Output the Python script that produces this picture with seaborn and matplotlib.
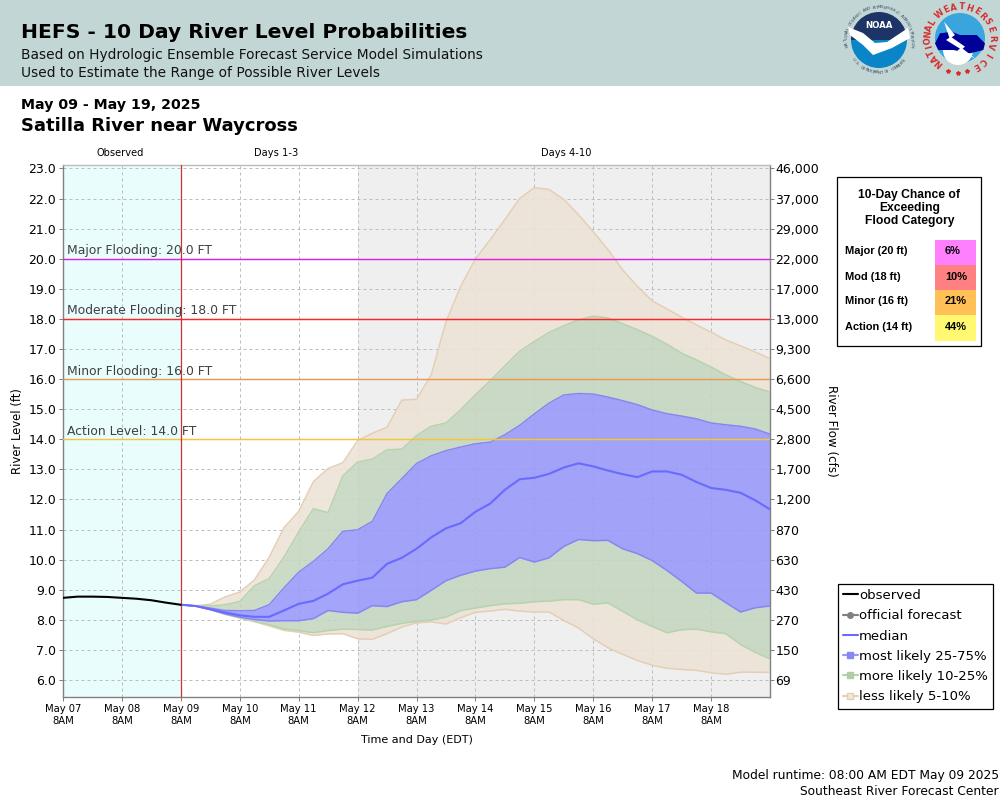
import numpy as np
import pandas as pd
import matplotlib
matplotlib.use("Agg")
import matplotlib.pyplot as plt
import seaborn as sns
from matplotlib.lines import Line2D
from matplotlib.patches import Circle, Polygon, Rectangle, Wedge

# ==========================================================
# DATA
# ==========================================================

observed = [8.73, 8.77, 8.77, 8.76, 8.73, 8.70, 8.65, 8.57, 8.50]

median = [8.50, 8.46, 8.35, 8.24, 8.15, 8.10, 8.10, 8.31, 8.53, 8.63, 8.87, 9.18, 9.30, 9.40,
          9.86, 10.06, 10.36, 10.74, 11.04, 11.21, 11.59, 11.86, 12.32, 12.67, 12.72, 12.85,
          13.06, 13.20, 13.10, 12.96, 12.84, 12.74, 12.93, 12.93, 12.82, 12.58, 12.38, 12.32,
          12.22, 11.97, 11.67]

q95 = [8.50, 8.46, 8.52, 8.76, 8.92, 9.33, 10.08, 11.06, 11.60, 12.59, 13.03, 13.22, 13.95,
       14.20, 14.40, 15.30, 15.33, 16.14, 17.90, 19.08, 19.99, 20.63, 21.30, 22.00, 22.36,
       22.30, 21.97, 21.46, 20.90, 20.30, 19.63, 19.08, 18.60, 18.33, 18.06, 17.80, 17.56,
       17.30, 17.10, 16.90, 16.68]

q90 = [8.50, 8.46, 8.46, 8.50, 8.61, 9.13, 9.37, 10.08, 10.92, 11.69, 11.56, 12.78, 13.24,
       13.34, 13.65, 13.67, 14.12, 14.43, 14.54, 14.98, 15.48, 15.94, 16.44, 16.92, 17.25,
       17.55, 17.77, 17.97, 18.09, 18.03, 17.84, 17.64, 17.42, 17.16, 16.86, 16.64, 16.40,
       16.14, 15.92, 15.72, 15.57]

q75 = [8.50, 8.46, 8.39, 8.31, 8.30, 8.31, 8.50, 9.06, 9.58, 9.94, 10.36, 10.94, 10.99, 11.27,
       12.19, 12.69, 13.19, 13.45, 13.62, 13.74, 13.85, 13.90, 14.15, 14.46, 14.84, 15.20,
       15.47, 15.52, 15.50, 15.40, 15.28, 15.15, 14.97, 14.85, 14.77, 14.68, 14.54, 14.48,
       14.43, 14.34, 14.17]

q25 = [8.50, 8.46, 8.34, 8.20, 8.09, 8.01, 7.96, 7.97, 7.97, 8.04, 8.31, 8.25, 8.22, 8.47,
       8.44, 8.60, 8.67, 8.98, 9.30, 9.48, 9.62, 9.70, 9.75, 10.07, 9.92, 10.06, 10.44, 10.67,
       10.63, 10.64, 10.36, 10.20, 9.97, 9.64, 9.28, 8.89, 8.89, 8.57, 8.26, 8.40, 8.46]

q10 = [8.50, 8.46, 8.34, 8.19, 8.07, 7.95, 7.84, 7.70, 7.64, 7.57, 7.64, 7.69, 7.68, 7.66,
       7.78, 7.88, 7.95, 7.99, 8.09, 8.31, 8.39, 8.47, 8.53, 8.55, 8.60, 8.62, 8.67, 8.67,
       8.52, 8.56, 8.28, 8.00, 7.78, 7.57, 7.67, 7.69, 7.60, 7.54, 7.18, 6.92, 6.70]

q05 = [8.50, 8.46, 8.34, 8.18, 8.06, 7.94, 7.80, 7.65, 7.59, 7.48, 7.53, 7.54, 7.37, 7.35,
       7.54, 7.76, 7.90, 7.93, 7.86, 8.07, 8.25, 8.29, 8.35, 8.29, 8.26, 8.26, 7.98, 7.73,
       7.37, 7.07, 6.85, 6.65, 6.49, 6.39, 6.35, 6.32, 6.24, 6.19, 6.26, 6.26, 6.25]

level_ticks = [6, 7, 8, 9, 10, 11, 12, 13, 14, 15, 16, 17, 18, 19, 20, 21, 22, 23]
flow_labels = ["69", "150", "270", "430", "630", "870", "1,200", "1,700", "2,800", "4,500",
               "6,600", "9,300", "13,000", "17,000", "22,000", "29,000", "37,000", "46,000"]

flood_names = ["Major Flooding: 20.0 FT", "Moderate Flooding: 18.0 FT",
               "Minor Flooding: 16.0 FT", "Action Level: 14.0 FT"]
flood_levels = [20, 18, 16, 14]
flood_colors = ["#E020E0", "#FF2525", "#E89A55", "#F2C53A"]

chance_names = ["Major (20 ft)", "Mod (18 ft)", "Minor (16 ft)", "Action (14 ft)"]
chance_values = ["6%", "10%", "21%", "44%"]
chance_colors = ["#FF80FF", "#FF8080", "#FFC055", "#FFF870"]

# ==========================================================
# TABLES
# ==========================================================

start = pd.Timestamp("2025-05-07 08:00")
now = pd.Timestamp("2025-05-09 08:00")
split = pd.Timestamp("2025-05-12 08:00")
end = pd.Timestamp("2025-05-19 08:00")

obs_df = pd.DataFrame({"time": pd.date_range(start, now, freq="6h"), "level": observed})
fc_df = pd.DataFrame({"time": pd.date_range(now, end, freq="6h"), "median": median,
                      "q95": q95, "q90": q90, "q75": q75, "q25": q25, "q10": q10, "q05": q05})
day_ticks = pd.date_range(start, "2025-05-18 08:00", freq="D")

# ==========================================================
# STYLE
# ==========================================================

sns.set_theme(style="ticks")
plt.rcParams["font.family"] = "DejaVu Sans"
plt.rcParams["text.color"] = "black"
plt.rcParams["axes.labelcolor"] = "black"
plt.rcParams["xtick.labelcolor"] = "black"
plt.rcParams["ytick.labelcolor"] = "black"

TAN = "#EDE3D6"
GREEN = "#C5D6C1"
BLUE = "#9898FA"
TAN_EDGE = "#E4CFB6"
GREEN_EDGE = "#B6D3AC"
BLUE_EDGE = "#8686F2"
MEDIAN = "#6A6AFF"
GRID = "#BDBDBD"
AXIS = "#808080"

fig = plt.figure(figsize=(10, 8), dpi=100)
ax = fig.add_axes([63 / 1000, 103 / 800, 707 / 1000, 532.5 / 800])

# ==========================================================
# CHART
# ==========================================================

ax.set_xlim(start, end)
ax.set_ylim(5.435, 23.13)

ax.axvspan(start, now, color="#E9FDFD", lw=0, zorder=0)
ax.axvspan(split, end, color="#EFEFEF", lw=0, zorder=0)

ax.set_yticks(level_ticks)
ax.set_yticklabels([f"{v:.1f}" for v in level_ticks])
ax.set_xticks(day_ticks)
ax.set_xticklabels([d.strftime("%b %d") + "\n8AM" for d in day_ticks])
ax.grid(True, color=GRID, lw=0.72, ls=(0, (3, 3)), zorder=1)
ax.set_axisbelow(True)

bands = [("q05", "q10", TAN), ("q10", "q25", GREEN), ("q25", "q75", BLUE),
         ("q75", "q90", GREEN), ("q90", "q95", TAN)]
for lo, hi, col in bands:
    ax.fill_between(fc_df["time"], fc_df[lo], fc_df[hi], color=col, alpha=0.88, lw=0, zorder=2)

for name, col in [("q95", TAN_EDGE), ("q05", TAN_EDGE), ("q90", GREEN_EDGE), ("q10", GREEN_EDGE),
                  ("q75", BLUE_EDGE), ("q25", BLUE_EDGE)]:
    sns.lineplot(data=fc_df, x="time", y=name, ax=ax, color=col, lw=1.1, zorder=3)

for lev, col, name in zip(flood_levels, flood_colors, flood_names):
    ax.axhline(lev, color=col, lw=1.05, zorder=4)
    ax.annotate(name, (start, lev), xytext=(3, 1), textcoords="offset points",
                fontsize=8.9, color="#404040", va="bottom", zorder=6)

ax.axvline(now, color="#D03030", lw=0.9, zorder=4)

sns.lineplot(data=fc_df, x="time", y="median", ax=ax, color=MEDIAN, lw=1.5, zorder=5)
sns.lineplot(data=obs_df, x="time", y="level", ax=ax, color="black", lw=1.5, zorder=5)

ax.set_xlabel("Time and Day (EDT)", fontsize=8, color="black", labelpad=7)
ax.set_ylabel("River Level (ft)", fontsize=8.4, color="black", labelpad=3)

ax.tick_params(axis="y", labelsize=9, length=3, width=0.72, color=AXIS, pad=2)
ax.tick_params(axis="x", labelsize=7.2, length=3, width=0.72, color=AXIS, pad=2)
for side in ["left", "bottom", "right"]:
    ax.spines[side].set_color(AXIS)
    ax.spines[side].set_linewidth(1)
ax.spines["top"].set_visible(True)
ax.spines["top"].set_color("#BBBBBB")
ax.spines["top"].set_linewidth(1)

ax2 = ax.twinx()
ax2.set_ylim(ax.get_ylim())
ax2.set_yticks(level_ticks)
ax2.set_yticklabels(flow_labels)
ax2.set_ylabel("River Flow (cfs)", fontsize=8.6, rotation=270, labelpad=0)
ax2.yaxis.set_label_coords(1.0 + 68 / 707, 0.5)
ax2.tick_params(axis="y", labelsize=9, length=3, width=0.72, color=AXIS, pad=1)
for side in ["left", "bottom", "right", "top"]:
    ax2.spines[side].set_visible(False)

# ==========================================================
# LEGEND
# ==========================================================

handles = [
    Line2D([], [], color="black", lw=1.5),
    Line2D([], [], color="#808080", lw=1.5, marker="o", ms=4),
    Line2D([], [], color=MEDIAN, lw=1.5),
    Line2D([], [], color="#9898FA", lw=1.5, marker="s", ms=4.2, mfc="#8888F0", mec="#8888F0"),
    Line2D([], [], color="#B6D3AC", lw=1.5, marker="s", ms=4.2, mfc="#B0CCA8", mec="#B0CCA8"),
    Line2D([], [], color="#E4CFB6", lw=1.5, marker="s", ms=4.2, mfc="#F0E6D8", mec="#E4CFB6"),
]
labels = ["observed", "official forecast", "median", "most likely 25-75%",
          "more likely 10-25%", "less likely 5-10%"]
leg = ax2.legend(handles, labels, loc="upper left", bbox_to_anchor=(837.5 / 1000, 216.5 / 800),
                 bbox_transform=fig.transFigure, borderaxespad=0, frameon=True, fancybox=False,
                 framealpha=1, edgecolor="black", fontsize=9.5, handlelength=1.1,
                 handletextpad=0.1, labelspacing=0.55, borderpad=0.42)
leg.get_frame().set_linewidth(0.9)

# ==========================================================
# PAGE TEXT (pixel coordinates)
# ==========================================================

page = fig.add_axes([0, 0, 1, 1], zorder=10)
page.set_xlim(0, 1000)
page.set_ylim(800, 0)
page.axis("off")
page.patch.set_alpha(0)

page.add_patch(Rectangle((0, 0), 1000, 85.5, color="#C2D7D5", lw=0))

page.text(21, 33, "HEFS - 10 Day River Level Probabilities", fontsize=14.6, weight="bold", va="center")
page.text(21, 54.5, "Based on Hydrologic Ensemble Forecast Service Model Simulations", fontsize=9.92, va="center", color="#111111")
page.text(21, 73, "Used to Estimate the Range of Possible River Levels", fontsize=9.92, va="center", color="#111111")
page.text(21, 105, "May 09 - May 19, 2025", fontsize=10.2, weight="bold", va="center")
page.text(21, 126, "Satilla River near Waycross", fontsize=13, weight="bold", va="center")

page.text(120, 153.5, "Observed", fontsize=7.1, ha="center", va="center")
page.text(276, 153.5, "Days 1-3", fontsize=7.1, ha="center", va="center")
page.text(566, 153.5, "Days 4-10", fontsize=7.1, ha="center", va="center")

page.text(999, 775.5, "Model runtime: 08:00 AM EDT May 09 2025", fontsize=8.85, ha="right", va="center")
page.text(999, 791.5, "Southeast River Forecast Center", fontsize=8.85, ha="right", va="center")

# flood category box
page.add_patch(Rectangle((836.5, 176.5), 144, 169, fc="white", ec="black", lw=0.9))
page.text(909.5, 195, "10-Day Chance of", family="Liberation Sans", weight="bold", fontsize=8.7, ha="center", va="center")
page.text(909.5, 208, "Exceeding", family="Liberation Sans", weight="bold", fontsize=8.7, ha="center", va="center")
page.text(909.5, 221, "Flood Category", family="Liberation Sans", weight="bold", fontsize=8.7, ha="center", va="center")
for i, (name, val, col) in enumerate(zip(chance_names, chance_values, chance_colors)):
    top = 240 + 25 * i
    page.add_patch(Rectangle((935, top), 41, 26 if i == 3 else 25, color=col, lw=0))
    page.text(845, top + 11.5, name, family="Liberation Sans", weight="bold", fontsize=7.9, va="center")
    page.text(945, top + 11.5, val, family="Liberation Sans", weight="bold", fontsize=7.9, va="center")

# ==========================================================
# LOGOS
# ==========================================================


def ring_text(text, cx, cy, radius, a_start, a_end, flip=False, **kw):
    # one character at a time round a circle, angles in degrees clockwise from top
    for a, ch in zip(np.linspace(a_start, a_end, len(text)), text):
        r = np.radians(a)
        rot = 180 - a if flip else -a
        page.text(cx + radius * np.sin(r), cy - radius * np.cos(r), ch, rotation=rot,
                  ha="center", va="center", rotation_mode="anchor", **kw)


# NOAA
nx, ny = 879, 40
page.add_patch(Wedge((nx, ny), 28, 0, 180, color="#0A85C8", lw=0))
page.add_patch(Wedge((nx, ny), 28, 180, 360, color="#1D3566", lw=0))
page.add_patch(Polygon([(848, 27), (863, 33), (875, 43), (887, 42), (908, 28), (910, 38),
                        (892, 48), (873, 55), (863, 45), (850, 35)], color="white", lw=0))
page.text(nx, 25, "NOAA", fontsize=6.2, weight="bold", color="white", ha="center", va="center")
ring_text("NATIONAL OCEANIC AND ATMOSPHERIC ADMINISTRATION", nx, ny, 32.5, -100, 100,
          fontsize=3, color="#3A4A68")
ring_text("U.S. DEPARTMENT OF COMMERCE", nx, ny, 32.5, 232, 128, flip=True, fontsize=3, color="#3A4A68")

# NWS
wx, wy = 960, 38
page.add_patch(Circle((wx, wy), 25, color="#3AA5DC", lw=0))
page.add_patch(Circle((wx - 2, wy + 12), 15, color="white", lw=0))
cloud = [(345, 130), (360, 100), (395, 95), (420, 105), (470, 105), (495, 130), (490, 150),
         (450, 160), (400, 150), (355, 150)]
page.add_patch(Polygon([(820 + a / 3, b / 3) for a, b in cloud], color="#000099", lw=0))
bolt = [(372, 65), (405, 105), (395, 112), (435, 140), (428, 146), (465, 175), (412, 152),
        (420, 146), (378, 120), (388, 113)]
page.add_patch(Polygon([(820 + a / 3, b / 3) for a, b in bolt], color="white", lw=0))
ring_text("NATIONAL", wx, wy, 32, -139, -61, fontsize=6, weight="bold", color="#D62B2B")
ring_text("WEATHER", wx, wy, 31, -40, 47, fontsize=6, weight="bold", color="#D62B2B")
ring_text("SERVICE", wx, wy, 32, 59, 151, fontsize=6, weight="bold", color="#D62B2B")
page.plot([948, 958, 967], [71, 73, 71], ls="", marker="*", ms=3, color="#D62B2B")

fig.savefig("out.png", dpi=100)
plt.close(fig)
